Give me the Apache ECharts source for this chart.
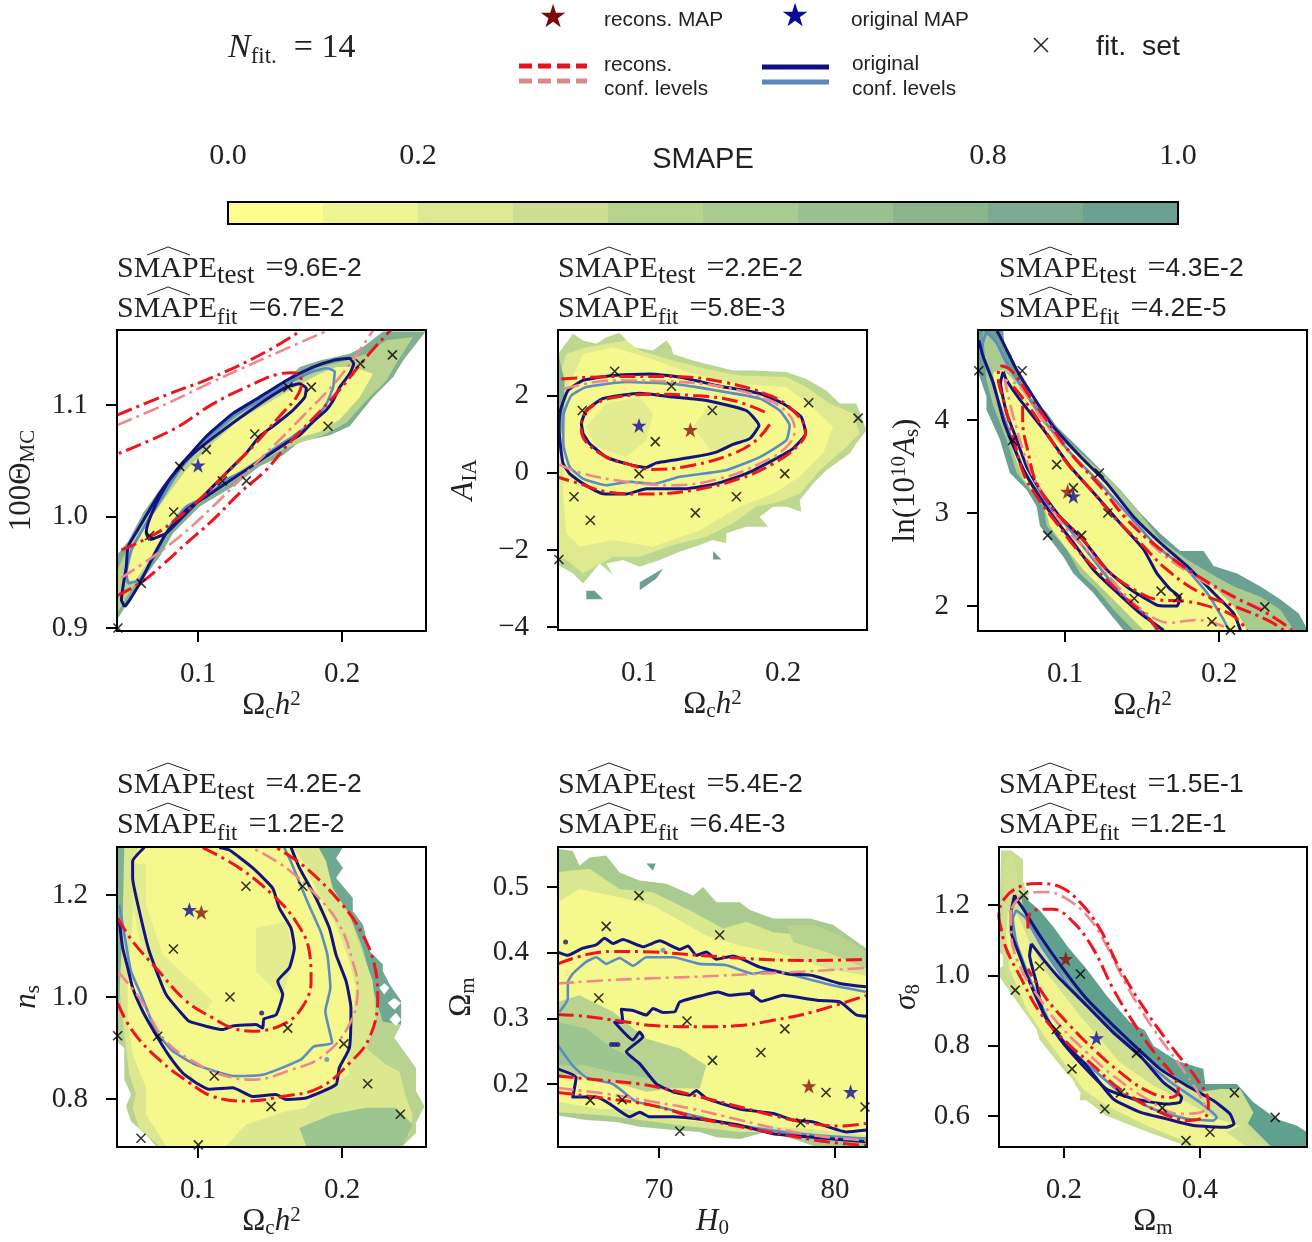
<!DOCTYPE html>
<html><head><meta charset="utf-8">
<style>html,body{margin:0;padding:0;background:#fff}#c{width:1312px;height:1242px}</style>
<script src="https://cdn.jsdelivr.net/npm/echarts@6/dist/echarts.min.js"></script>
</head><body><div id="c"></div>
<script>
// colour bar
const barEdges=[0,.1,.2,.3,.4,.5,.6,.7,.8,.9,1];
const barColors=['#fdfe8e','#eef491','#dde892','#cddd92','#b8d390','#a9cb8f','#9ac08f','#8ab48e','#7ca98f','#6ba193'];
const barTicks=[0,.2,.8,1];
// panel 1
const p1XTicks=[.1,.2], p1YTicks=[.9,1,1.1];
const p1Outer=[[.0438,.9045],[.0438,.9657],[.0514,.9776],[.0618,1.003],[.0734,1.024],[.0873,1.048],[.1058,1.072],[.1243,1.0925],[.1428,1.109],[.1613,1.122],[.1706,1.134],[.1845,1.14],[.2053,1.146],[.2146,1.152],[.2285,1.166],[.2581,1.166],[.2424,1.14],[.2354,1.125],[.2215,1.107],[.2053,1.081],[.1914,1.073],[.1706,1.067],[.159,1.055],[.1428,1.045],[.1243,1.027],[.1012,1.009],[.0826,.985],[.0734,.964],[.0595,.94],[.0438,.9075]];
const p1Mid=[[.0438,.952],[.0514,.972],[.0641,1],[.0757,1.019],[.0896,1.045],[.1081,1.069],[.1266,1.0896],[.1451,1.105],[.1637,1.119],[.1822,1.133],[.203,1.14],[.2169,1.146],[.2308,1.158],[.2493,1.161],[.2389,1.14],[.2308,1.122],[.2169,1.104],[.203,1.084],[.1868,1.073],[.1683,1.065],[.1544,1.057],[.1405,1.046],[.122,1.03],[.0988,1.01],[.0803,.987],[.0711,.966],[.0549,.937],[.0438,.913]];
const p1Core=[[.0502,.946],[.0549,.97],[.0664,.997],[.078,1.018],[.0919,1.042],[.1104,1.066],[.1289,1.087],[.1475,1.101],[.166,1.115],[.1845,1.128],[.1961,1.134],[.2076,1.134],[.2215,1.128],[.2123,1.107],[.1984,1.087],[.1845,1.076],[.166,1.069],[.1521,1.06],[.1336,1.045],[.1104,1.024],[.0919,1.006],[.078,.985],[.0664,.961],[.0549,.94]];
const p1NavyA=[[.0491,.919],[.0468,.925],[.0479,.937],[.0502,.955],[.0514,.973],[.0595,.991],[.0734,1.021],[.0873,1.045],[.1058,1.072],[.1243,1.0925],[.1428,1.107],[.1613,1.122],[.1799,1.134],[.1938,1.14],[.2053,1.142],[.2081,1.137],[.2053,1.128],[.1984,1.116],[.1938,1.104],[.1891,1.0955],[.1799,1.085],[.1706,1.073],[.1613,1.066],[.1475,1.054],[.1336,1.042],[.1197,1.03],[.1058,1.018],[.0919,1.006],[.078,.985],[.0688,.964],[.0595,.94],[.0525,.925],[.0491,.919]];
const p1NavyB=[[.0664,.979],[.0641,.985],[.0653,.994],[.0711,1.012],[.0803,1.033],[.0919,1.051],[.1058,1.066],[.1243,1.084],[.1428,1.101],[.1613,1.116],[.1706,1.119],[.1752,1.115],[.1741,1.107],[.166,1.0955],[.1521,1.081],[.1428,1.072],[.1336,1.057],[.1243,1.045],[.115,1.033],[.1058,1.021],[.0965,1.009],[.0873,.997],[.078,.985],[.0664,.979]];
const p1Blue=[[.0514,.94],[.0502,.949],[.0537,.97],[.0641,.994],[.0757,1.018],[.0873,1.042],[.1058,1.069],[.1243,1.09],[.1428,1.104],[.1613,1.119],[.1799,1.13],[.1891,1.133],[.1949,1.13],[.1938,1.116],[.1891,1.101],[.1799,1.085],[.166,1.072],[.1521,1.06],[.1336,1.042],[.1197,1.033],[.1058,1.018],[.0919,1.009],[.0803,.991],[.0688,.961],[.0595,.943],[.0514,.94]];
const p1RedA=[[.0438,1.091],[.078,1.109],[.1104,1.125],[.1475,1.148],[.1718,1.167]];
const p1RedB=[[.0438,.929],[.0618,.942],[.0757,.957],[.0919,.976],[.1104,.997],[.1289,1.021],[.1475,1.042],[.1613,1.063],[.1938,1.107],[.2169,1.143],[.2336,1.167]];
const p1RedC=[[.0468,.97],[.0525,.973],[.0711,.985],[.0873,1],[.1035,1.018],[.1197,1.039],[.1382,1.063],[.1567,1.09],[.1683,1.107],[.1718,1.119],[.1706,1.127],[.166,1.129],[.1567,1.128],[.1336,1.116],[.1104,1.101],[.0826,1.078],[.0438,1.056]];
const p1PinkA=[[.0438,1.082],[.078,1.101],[.1104,1.121],[.1428,1.14],[.1903,1.167]];
const p1PinkB=[[.0468,.945],[.0688,.964],[.0873,.982],[.1104,1.009],[.1382,1.045],[.1706,1.087],[.1984,1.125],[.2215,1.167]];
const p1Fit=[[.0664,.983],[.0873,1.045],[.1058,1.06],[.0831,1.004],[.1394,1.074],[.1169,1.032],[.1336,1.032],[.1625,1.116],[.1787,1.116],[.2127,1.137],[.235,1.145],[.1903,1.081],[.0606,.94],[.0444,.9]];
const p1Orig=[[.1,1.046]], p1Rec=[];
// panel 2
const p2XTicks=[.1,.2], p2YTicks=[-4,-2,0,2];
const p2Outer=[[.0438,3.09],[.0542,3.61],[.0611,3.44],[.0704,3.35],[.0773,3.52],[.0866,3.63],[.0958,3.26],[.1097,3.18],[.119,3.44],[.1225,3.26],[.1236,3.09],[.1375,2.92],[.1653,2.66],[.1792,2.66],[.2023,2.62],[.2162,2.44],[.2301,2.14],[.2394,1.8],[.2509,1.8],[.2579,1.11],[.2509,.76],[.2463,.5],[.2301,.07],[.2208,-.28],[.2116,-.71],[.2127,-1.01],[.2023,-.88],[.1931,-.88],[.1838,-1.14],[.1896,-1.4],[.1745,-1.4],[.1606,-1.57],[.1606,-1.83],[.1514,-1.74],[.1421,-1.87],[.1282,-2.05],[.1144,-2.26],[.1005,-2.44],[.0889,-2.26],[.0773,-2.35],[.0819,-2.65],[.0727,-2.35],[.0611,-2.87],[.0542,-2.61],[.0438,-2.39]];
const p2Mid=[[.0438,2.4],[.0495,3.09],[.0634,3.26],[.0912,3.44],[.1005,3.18],[.1236,2.92],[.1468,2.7],[.1699,2.53],[.2023,2.49],[.2162,2.23],[.2324,1.8],[.2486,1.54],[.2532,1.02],[.244,.67],[.2255,.07],[.2116,-.54],[.1977,-.75],[.1815,-.88],[.1653,-1.31],[.1468,-1.66],[.1236,-1.87],[.1005,-2.18],[.0819,-2.18],[.0611,-2.61],[.0495,-2.26],[.0438,-2.18]];
const p2Core=[[.0484,.85],[.0507,2.23],[.0611,3.09],[.0819,3.26],[.1051,3],[.1375,2.57],[.1699,2.31],[.2023,2.23],[.2208,1.71],[.2347,1.19],[.2278,.5],[.2116,-.1],[.1931,-.54],[.1699,-.88],[.1421,-1.49],[.1097,-1.92],[.0819,-1.74],[.0588,-1.92],[.0495,-1.57],[.0473,-.54]];
const p2PatchA=[[.0634,1.19],[.0773,1.8],[.1005,1.97],[.1097,1.54],[.1051,.85],[.0912,.41],[.0704,.67]];
const p2PatchB=[[.1375,1.19],[.1514,1.88],[.1745,1.62],[.1826,1.19],[.1745,.8],[.1514,.5]];
const p2Left=[[.0438,3.09],[.0484,2.4],[.0477,1.54],[.0449,.68],[.0438,.41]];
const p2IslandA=[[.1005,-3.05],[.1005,-2.84],[.1167,-2.48],[.1121,-2.74]];
const p2IslandB=[[.0634,-3.06],[.0692,-3.06],[.075,-3.28],[.0634,-3.28]];
const p2IslandC=[[.1514,-2.03],[.1572,-2.25],[.1514,-2.25]];
const p2NavyA=[[.0461,.5],[.0445,1.11],[.0454,1.62],[.0507,2.14],[.0611,2.4],[.0819,2.53],[.1074,2.57],[.1282,2.49],[.1537,2.27],[.1838,2.06],[.1999,1.8],[.2127,1.45],[.2157,1.02],[.2069,.63],[.1931,.33],[.1745,-.02],[.1537,-.28],[.1329,-.41],[.1051,-.41],[.0912,-.55],[.075,-.54],[.0611,-.28],[.0518,-.02],[.0473,.24],[.0461,.5]];
const p2NavyB=[[.0611,1.02],[.06,1.28],[.0634,1.62],[.075,1.93],[.1005,2.07],[.1236,1.97],[.1468,1.88],[.1745,1.62],[.1833,1.23],[.1769,.89],[.1653,.74],[.1537,.54],[.1375,.41],[.112,.26],[.1051,.14],[.0912,.24],[.0773,.41],[.0657,.76],[.0611,1.02]];
const p2Blue=[[.0473,1.02],[.0477,1.54],[.053,2.01],[.0634,2.23],[.0912,2.36],[.1236,2.31],[.1537,2.14],[.1838,1.93],[.1977,1.62],[.2046,1.23],[.2023,.85],[.1838,.41],[.1606,.07],[.1282,-.1],[.1097,-.29],[.0935,-.23],[.0773,-.32],[.0611,-.15],[.0518,.16],[.0477,.67],[.0473,1.02]];
const p2RedA=[[.0461,2.44],[.0819,2.5],[.1236,2.5],[.1583,2.36],[.1907,2.01],[.2069,1.62],[.2157,1.06],[.2093,.67],[.1931,.24],[.1699,-.15],[.1375,-.45],[.1051,-.55],[.0773,-.49],[.0588,-.28],[.0444,-.12]];
const p2RedB=[[.1873,1.58],[.1653,1.88],[.1375,2.01],[.1097,2.04],[.0843,1.97],[.0704,1.8],[.0611,1.45],[.06,1.11],[.0634,.8],[.0773,.41],[.0912,.24],[.1097,.09],[.1375,.2],[.1653,.5],[.1815,.85],[.1907,1.26]];
const p2Pink=[[.0477,2.18],[.0819,2.4],[.1236,2.37],[.1583,2.23],[.1907,1.88],[.2046,1.49],[.2081,1.11],[.2023,.67],[.1838,.24],[.156,-.15],[.1236,-.32],[.0912,-.23],[.0611,-.02],[.0444,.22]];
const p2Fit=[[.0831,2.64],[.1225,2.25],[.0606,1.62],[.1509,1.62],[.2178,1.82],[.2521,1.42],[.1113,.81],[.1,-.02],[.2012,-.02],[.0549,-.62],[.1676,-.62],[.1391,-1.04],[.0662,-1.23],[.0444,-2.25]];
const p2Orig=[[.1,1.23]], p2Rec=[[.1356,1.12]];
// panel 3
const p3XTicks=[.1,.2], p3YTicks=[2,3,4];
const p3Outer=[[.0436,4.96],[.0599,4.96],[.0609,4.76],[.0653,4.7],[.0664,4.58],[.0729,4.43],[.0772,4.25],[.0881,4.08],[.0946,3.93],[.1033,3.79],[.1119,3.65],[.1228,3.47],[.1358,3.25],[.1488,3],[.1618,2.78],[.1748,2.59],[.19,2.59],[.1965,2.43],[.2117,2.35],[.2269,2.21],[.2399,2.07],[.2518,1.92],[.2577,1.74],[.138,1.74],[.1271,1.96],[.1184,2.14],[.1054,2.35],[.0989,2.53],[.0837,2.86],[.0816,3.07],[.0751,3.25],[.0642,3.43],[.0577,3.79],[.049,4.11],[.049,4.25],[.0436,4.51]];
const p3Mid=[[.0469,4.94],[.0544,4.86],[.0599,4.65],[.0686,4.43],[.0772,4.18],[.0924,3.93],[.1098,3.65],[.1293,3.36],[.1466,3.04],[.1618,2.71],[.1792,2.5],[.1944,2.35],[.2095,2.21],[.2269,2.1],[.2399,1.96],[.2486,1.74],[.1445,1.74],[.1315,1.96],[.1206,2.18],[.1098,2.35],[.1011,2.61],[.0881,2.86],[.0859,3.07],[.0772,3.25],[.0686,3.43],[.062,3.79],[.0534,4.15],[.049,4.43]];
const p3Core=[[.0534,4.51],[.0599,4.54],[.0707,4.36],[.0816,4.08],[.0967,3.79],[.1141,3.54],[.1315,3.22],[.1488,2.89],[.164,2.61],[.1814,2.39],[.1965,2.21],[.2095,2],[.2182,1.74],[.151,1.74],[.138,1.96],[.1228,2.21],[.1119,2.39],[.1011,2.61],[.0902,2.86],[.0859,3.11],[.073,3.36],[.0664,3.65],[.062,3.93],[.0555,4.22]];
const p3NavyA=[[.044,4.86],[.0469,4.68],[.0534,4.4],[.0599,4],[.0664,3.72],[.0729,3.47],[.0816,3.22],[.0924,2.96],[.1054,2.68],[.1184,2.39],[.1315,2.18],[.1488,1.92],[.164,1.74]];
const p3NavyB=[[.0558,4.96],[.0599,4.83],[.0686,4.54],[.0794,4.25],[.0924,3.93],[.1098,3.61],[.1271,3.32],[.1445,2.96],[.1618,2.68],[.1792,2.43],[.1965,2.14],[.2095,1.92],[.2139,1.74]];
const p3NavyC=[[.0599,4.52],[.0581,4.4],[.062,4.08],[.0686,3.79],[.0751,3.5],[.0837,3.25],[.0967,2.96],[.1119,2.71],[.1271,2.39],[.1423,2.18],[.1597,2.01],[.1662,2],[.1727,2],[.1748,2.09],[.1683,2.18],[.1597,2.35],[.151,2.61],[.1358,2.89],[.1206,3.18],[.1033,3.5],[.0859,3.9],[.0707,4.22],[.062,4.43],[.0599,4.52]];
const p3BlueA=[[.049,4.95],[.0458,4.76],[.0523,4.43],[.061,4],[.0729,3.47],[.0859,3.14],[.1011,2.86],[.1184,2.5],[.1358,2.14],[.1531,1.89],[.1597,1.74]];
const p3BlueB=[[.049,4.95],[.0555,4.83],[.0631,4.58],[.0729,4.33],[.0859,4],[.1033,3.65],[.1228,3.32],[.1401,3],[.1597,2.64],[.1792,2.39],[.1922,2.14],[.203,1.85],[.2063,1.74]];
const p3RedA=[[.1607,1.74],[.1531,1.89],[.1401,2.07],[.1228,2.35],[.1076,2.61],[.0946,2.89],[.0816,3.18],[.0729,3.43],[.0664,3.82],[.0599,4.22],[.0566,4.47],[.0588,4.58],[.0664,4.51],[.0772,4.25],[.0881,4],[.1033,3.65],[.1228,3.29],[.1401,2.93],[.1597,2.64],[.1835,2.35],[.2095,2.1],[.2269,1.96],[.2399,1.83],[.2475,1.74]];
const p3RedB=[[.0725,4.15],[.0725,4],[.0761,3.65],[.0816,3.32],[.0946,3],[.1119,2.71],[.1271,2.39],[.1445,2.18],[.1597,2.07],[.1792,2.05],[.1965,1.98],[.2095,1.89],[.2182,1.74]];
const p3RedC=[[.0664,4.36],[.0751,4.18],[.0881,3.86],[.1011,3.54],[.1184,3.22],[.1315,2.96],[.1488,2.68],[.1662,2.39],[.1879,2.14],[.2095,2],[.2312,1.85],[.2421,1.74]];
const p3Pink=[[.2032,1.78],[.1857,1.85],[.1683,1.82],[.1531,1.92],[.1358,2.18],[.1184,2.53],[.1011,2.82],[.0881,3.14],[.0772,3.47],[.0664,4.04],[.0609,4.43],[.0707,4.36],[.0837,4.04],[.1011,3.68],[.1206,3.32],[.1401,2.96],[.1597,2.61],[.1814,2.35],[.2095,2.09],[.229,1.96],[.2464,1.74]];
const p3Fit=[[.0722,4.53],[.044,4.53],[.0659,3.78],[.0946,3.52],[.1223,3.43],[.1054,3.27],[.1278,3],[.0887,2.76],[.1108,2.76],[.1449,2.08],[.1623,2.16],[.1733,2.09],[.1954,1.83],[.2297,1.99],[.2074,1.74]];
const p3Orig=[[.1054,3.18]], p3Rec=[[.1017,3.23]];
// panel 4
const p4XTicks=[.1,.2], p4YTicks=[.8,1,1.2];
const p4Outer=[[.0435,1.293],[.2005,1.293],[.1958,1.272],[.2005,1.253],[.1958,1.233],[.2074,1.194],[.2074,1.168],[.2144,1.142],[.219,1.09],[.2282,1.064],[.2282,1.051],[.2329,1.025],[.241,.992],[.241,.946],[.2363,.92],[.2514,.861],[.2514,.815],[.2572,.786],[.2514,.753],[.2514,.734],[.2421,.708],[.0708,.708],[.0639,.73],[.0535,.756],[.05,.786],[.0535,.809],[.0488,.838],[.0488,.9],[.0435,.913]];
const p4Right=[[.2005,1.293],[.1958,1.272],[.2005,1.253],[.1958,1.233],[.2074,1.194],[.2074,1.168],[.2144,1.142],[.219,1.09],[.2282,1.064],[.2282,1.051],[.2329,1.025],[.241,.992],[.241,.946],[.2282,.952],[.2213,1.018],[.2144,1.096],[.2051,1.161],[.1935,1.213],[.1866,1.266],[.1838,1.293]];
const p4Left=[[.0435,1.293],[.0488,1.293],[.0477,1.15],[.0454,1],[.0435,.95]];
const p4HoleA=[[.2259,1.018],[.2294,1.027],[.2329,1.018],[.2294,1.005]];
const p4HoleB=[[.2317,.988],[.2363,.998],[.241,.988],[.2363,.975]];
const p4HoleC=[[.2329,.956],[.2375,.969],[.241,.956],[.2375,.943]];
const p4Mid=[[.0454,1.293],[.1838,1.293],[.1889,1.266],[.1935,1.213],[.2051,1.161],[.2132,1.096],[.2213,1.031],[.2236,.952],[.2167,.9],[.2306,.867],[.2398,.854],[.2444,.802],[.2491,.77],[.2468,.73],[.2352,.708],[.0731,.708],[.0593,.743],[.0546,.783],[.0569,.809],[.0523,.848],[.0488,.926],[.0454,1.018]];
const p4Core=[[.0581,1.293],[.1657,1.293],[.1727,1.266],[.1843,1.2],[.1958,1.142],[.2051,1.07],[.2097,1.018],[.2074,.952],[.2028,.887],[.2051,.848],[.1843,.815],[.175,.783],[.1611,.776],[.1333,.75],[.1194,.708],[.0778,.708],[.0639,.77],[.0639,.822],[.0546,.887],[.0512,.952],[.0512,1.05],[.0546,1.148],[.0546,1.246]];
const p4PatchA=[[.0546,1.259],[.0639,1.262],[.0639,1.181],[.0755,1.083],[.1102,.992],[.1056,.972],[.0824,1.005],[.0616,1.083],[.0546,1.181]];
const p4PatchB=[[.1403,1.135],[.1611,1.148],[.1669,1.083],[.1588,.998],[.1403,1.05]];
const p4Dark=[[.1704,.743],[.1935,.77],[.2167,.783],[.2375,.783],[.2491,.75],[.2421,.708],[.175,.708]];
const p4NavyA=[[.0454,1.148],[.0477,1.096],[.0512,1.057],[.0546,1.018],[.0616,.972],[.0708,.926],[.0801,.884],[.0894,.851],[.0986,.832],[.1079,.819],[.1241,.822],[.138,.805],[.1542,.809],[.1611,.799],[.175,.802],[.1958,.828],[.1981,.861],[.2051,.9],[.2062,.978],[.2028,1.031],[.1958,1.083],[.1912,1.135],[.1819,1.194],[.1704,1.253],[.1646,1.293]];
const p4NavyB=[[.0627,1.293],[.0546,1.266],[.0546,1.233],[.0593,1.168],[.0662,1.089],[.0778,1.005],[.0894,.965],[.094,.952],[.1171,.936],[.1241,.943],[.1403,.946],[.1449,.939],[.1458,.957],[.1542,.965],[.1588,1.005],[.1553,1.031],[.1634,1.057],[.1669,1.096],[.1646,1.135],[.1565,1.174],[.1519,1.213],[.138,1.253],[.1218,1.288],[.1148,1.293]];
const p4Blue=[[.0454,1.18],[.0489,1.122],[.0535,1.05],[.0604,1.005],[.0708,.933],[.0824,.894],[.0986,.867],[.125,.845],[.1458,.848],[.1713,.877],[.1806,.903],[.1931,.91],[.1884,.972],[.1919,1.018],[.1898,1.083],[.1852,1.128],[.1759,1.187],[.1644,1.266],[.1598,1.293]];
const p4RedA=[[.0442,.988],[.0546,.933],[.0731,.877],[.094,.832],[.1102,.805],[.1333,.796],[.1588,.805],[.1843,.822],[.2051,.87],[.219,.92],[.2248,.998],[.2225,1.063],[.2144,1.122],[.2005,1.18],[.175,1.253],[.1542,1.293]];
const p4RedB=[[.0442,1.155],[.0546,1.109],[.0708,1.057],[.0917,.992],[.1102,.959],[.1241,.939],[.138,.933],[.1565,.943],[.1704,.972],[.1785,1.031],[.1773,1.089],[.168,1.148],[.1519,1.2],[.1287,1.253],[.1032,1.293]];
const p4Pink=[[.0442,1.05],[.0593,.998],[.0778,.913],[.1009,.867],[.1194,.845],[.138,.838],[.1657,.858],[.1866,.884],[.2051,.946],[.2109,1.018],[.2074,1.07],[.1981,1.142],[.1819,1.2],[.1611,1.253],[.138,1.292]];
const p4Fit=[[.1333,1.217],[.1727,1.217],[.0829,1.094],[.1222,1],[.1623,.939],[.072,.923],[.0442,.924],[.2012,.908],[.1113,.845],[.2178,.83],[.1507,.785],[.2405,.77],[.0604,.723],[.1002,.71]];
const p4Orig=[[.094,1.171]], p4Rec=[[.1023,1.166]];
const p4NavyDots=[[.1442,.9687]], p4BlueDots=[[.1894,.8773]];
// panel 5
const p5XTicks=[70,80], p5YTicks=[.2,.3,.4,.5];
const p5Outer=[[64.25,.558],[65.1,.555],[65.48,.533],[66.05,.545],[67,.548],[67.76,.522],[68.9,.51],[70.42,.505],[71.94,.487],[72.5,.5],[73.26,.477],[74.59,.477],[75.16,.465],[76.49,.452],[78.58,.452],[79.91,.442],[81.8,.406],[81.8,.104],[78.96,.104],[77.63,.116],[76.11,.127],[74.59,.116],[73.26,.119],[72.31,.127],[70.8,.13],[68.9,.135],[67.57,.142],[65.86,.145],[64.25,.152]];
const p5Island=[[69.28,.536],[69.81,.536],[69.66,.525]];
const p5Mid=[[64.25,.523],[66.05,.528],[67.76,.497],[69.66,.492],[71.94,.462],[73.64,.437],[74.97,.447],[76.49,.431],[78.39,.426],[80.28,.416],[81.8,.386],[81.8,.117],[78.01,.127],[74.59,.127],[71.18,.137],[67,.152],[64.25,.157]];
const p5Core=[[64.25,.477],[65.48,.497],[68.14,.482],[69.66,.472],[72.69,.426],[74.59,.411],[77.25,.396],[79.53,.376],[81.8,.365],[81.8,.122],[78.39,.132],[74.59,.137],[72.69,.142],[70.42,.147],[68.14,.162],[66.62,.162],[64.25,.173]];
const p5Wedge=[[64.25,.325],[65.48,.335],[67.38,.31],[69.28,.269],[71.18,.254],[72.69,.228],[72.31,.193],[70.8,.193],[69.28,.188],[67.38,.203],[65.67,.213],[64.25,.213]];
const p5WedgeCore=[[64.25,.294],[65.86,.284],[67.38,.254],[68.9,.234],[69.66,.208],[67.38,.218],[65.86,.228],[64.25,.228]];
const p5Upper=[[77.25,.442],[78.77,.442],[80.28,.426],[81.8,.401],[81.8,.376],[79.53,.401],[77.63,.416]];
const p5NavyA=[[64.25,.401],[64.82,.396],[65.67,.407],[66.43,.412],[66.91,.422],[67.38,.414],[67.95,.42],[69.09,.409],[70.04,.418],[71.18,.405],[71.65,.41],[72.12,.396],[72.69,.401],[73.26,.39],[74.21,.395],[75.73,.378],[77.25,.368],[78.77,.365],[80.28,.353],[81.8,.348]];
const p5NavyB=[[81.8,.303],[81.23,.305],[80.28,.325],[79.15,.327],[78.39,.33],[77.06,.335],[75.82,.326],[75.16,.338],[74.02,.335],[73.36,.34],[72.5,.335],[71.18,.325],[70.9,.31],[70.23,.309],[69.66,.315],[69.28,.305],[68.52,.312],[67.86,.314],[67.95,.294],[67.48,.294],[68.52,.267],[68.9,.279],[69.09,.272],[68.14,.249],[68.9,.231],[69.85,.2],[70.8,.188],[71.75,.183],[72.12,.19],[72.69,.178],[74.59,.162],[76.49,.155],[77.63,.145],[78.77,.142],[80.66,.127],[81.8,.13]];
const p5NavyC=[[64.25,.223],[65.29,.21],[65.1,.18],[66.43,.18],[67.19,.17],[68.33,.15],[68.9,.157],[69.47,.15],[70.8,.15],[72.69,.145],[74.59,.137],[76.49,.124],[78.77,.119],[81.8,.112]];
const p5BlueA=[[64.35,.31],[64.82,.33],[64.82,.355],[65.1,.368],[65.86,.386],[66.43,.393],[67,.383],[67.76,.392],[68.52,.38],[69.28,.393],[70.8,.393],[72.31,.383],[73.83,.381],[75.35,.368],[76.49,.373],[78.01,.363],[79.91,.35],[81.8,.34]];
const p5BlueB=[[64.25,.259],[65.1,.228],[65.86,.21],[67.38,.2],[68.71,.173],[70.04,.165],[71.94,.152],[73.83,.14],[76.49,.129],[78.77,.122],[81.8,.117]];
const p5RedA=[[64.25,.383],[65.86,.397],[67.38,.402],[69.66,.401],[72.31,.396],[75.73,.39],[78.77,.388],[81.8,.39]];
const p5RedB=[[64.25,.306],[65.86,.303],[67.76,.296],[69.66,.289],[72.31,.287],[74.59,.289],[76.49,.297],[78.77,.31],[81.8,.335]];
const p5RedC=[[64.25,.212],[66.62,.206],[68.9,.2],[70.8,.19],[72.69,.178],[74.59,.165],[76.49,.152],[78.39,.141],[80.28,.136],[81.8,.14]];
const p5RedD=[[64.25,.187],[67,.178],[69.66,.167],[71.94,.15],[74.59,.135],[77.25,.122],[79.53,.112],[81.8,.106]];
const p5PinkA=[[64.25,.353],[67,.358],[69.66,.361],[72.69,.364],[75.73,.368],[78.77,.372],[81.8,.377]];
const p5PinkB=[[64.25,.194],[67,.185],[69.66,.173],[71.94,.162],[74.59,.145],[77.25,.129],[79.53,.119],[81.8,.114]];
const p5Fit=[[68.86,.487],[67,.44],[73.45,.427],[66.58,.331],[71.59,.296],[77.15,.284],[75.79,.248],[73.04,.236],[79.49,.187],[66.09,.175],[67.91,.176],[78.05,.141],[71.18,.128],[81.71,.165]];
const p5Orig=[[80.89,.188]], p5Rec=[[78.52,.197]];
const p5NavyDots=[[64.69,.4162],[75.31,.341],[75.31,.337],[67.3,.26],[67.48,.26],[67.66,.26]], p5BlueDots=[[70.23,.4036]];
// panel 6
const p6XTicks=[.2,.4], p6YTicks=[.6,.8,1,1.2];
const p6Outer=[[.1076,1.355],[.1224,1.355],[.1396,1.33],[.1396,1.27],[.1494,1.209],[.1641,1.185],[.1862,1.133],[.2059,1.08],[.2329,1.019],[.2624,.943],[.2968,.867],[.3189,.843],[.3312,.8],[.3656,.757],[.4049,.734],[.4074,.691],[.4541,.691],[.4786,.639],[.513,.591],[.5425,.572],[.5582,.553],[.5582,.511],[.5057,.511],[.4147,.511],[.3853,.511],[.3214,.556],[.2624,.601],[.2329,.645],[.2231,.645],[.2256,.684],[.2034,.722],[.1641,.817],[.1592,.848],[.1346,.915],[.1052,.996],[.1042,1.02],[.1224,1.038],[.1042,1.067],[.1052,1.2]];
const p6Teal=[[.1371,1.228],[.1494,1.209],[.1641,1.185],[.1862,1.133],[.2059,1.08],[.2329,1.019],[.2624,.943],[.2968,.867],[.3189,.843],[.3312,.8],[.3656,.757],[.4049,.734],[.4074,.691],[.4541,.691],[.4786,.639],[.513,.591],[.5425,.572],[.5582,.553],[.5582,.511],[.5057,.511],[.4688,.582],[.4393,.649],[.4,.668],[.3607,.715],[.3214,.762],[.2722,.838],[.2231,.943],[.174,1.057],[.1445,1.152],[.1371,1.209]];
const p6Mid=[[.1125,1.342],[.1248,1.342],[.1346,1.247],[.1445,1.152],[.174,1.057],[.2231,.943],[.2722,.838],[.3214,.762],[.3607,.715],[.4,.668],[.4295,.677],[.459,.677],[.4786,.61],[.4639,.554],[.5032,.511],[.3951,.511],[.3214,.563],[.2624,.615],[.2231,.668],[.2034,.734],[.169,.82],[.1396,.905],[.1101,1.028],[.1101,1.152]];
const p6Core=[[.1174,1.18],[.1322,1.171],[.1494,1.095],[.174,1.009],[.2231,.886],[.2821,.753],[.3312,.687],[.3803,.639],[.4246,.592],[.459,.573],[.4393,.554],[.4688,.511],[.4,.511],[.3214,.573],[.2624,.63],[.228,.677],[.2034,.744],[.174,.82],[.1445,.905],[.1199,1.019],[.115,1.114]];
const p6NavyA=[[.1273,1.228],[.1224,1.18],[.1224,1.123],[.1346,1.057],[.1494,.981],[.174,.877],[.2034,.801],[.2329,.744],[.2722,.649],[.3115,.611],[.3509,.592],[.3902,.573],[.4393,.568],[.4501,.577],[.4442,.606],[.4197,.644],[.3803,.687],[.341,.734],[.3115,.786],[.2722,.858],[.2329,.934],[.1985,1.019],[.1641,1.114],[.1396,1.19],[.1297,1.218],[.1273,1.228]];
const p6NavyB=[[.1518,1.09],[.1494,1.057],[.1592,.981],[.169,.896],[.1936,.82],[.2231,.753],[.2624,.677],[.3017,.649],[.3509,.634],[.3705,.639],[.373,.653],[.3459,.696],[.3115,.772],[.2722,.838],[.2329,.915],[.1936,.991],[.169,1.047],[.1518,1.09]];
const p6Blue=[[.1297,1.185],[.1248,1.161],[.1297,1.095],[.1494,.991],[.1789,.867],[.2133,.782],[.2477,.725],[.2821,.668],[.3312,.62],[.3803,.592],[.4197,.587],[.4246,.596],[.4,.639],[.3607,.691],[.3214,.753],[.2821,.82],[.2428,.896],[.2034,.981],[.169,1.076],[.1445,1.161],[.1297,1.185]];
const p6RedA=[[.1076,1.133],[.1042,1.171],[.1125,1.218],[.1346,1.252],[.1641,1.261],[.1936,1.252],[.2231,1.209],[.2526,1.133],[.2821,1.019],[.3214,.896],[.3607,.791],[.3951,.706],[.4123,.639],[.4123,.611],[.3853,.587],[.341,.611],[.2821,.677],[.2428,.744],[.2034,.81],[.1641,.896],[.1346,1],[.115,1.076],[.1076,1.133]];
const p6RedB=[[.1469,1.133],[.1469,1.161],[.1641,1.188],[.1838,1.188],[.2133,1.152],[.2428,1.076],[.2722,.962],[.3017,.867],[.3361,.772],[.3607,.715],[.3681,.668],[.3558,.653],[.3214,.672],[.2821,.725],[.2428,.791],[.2084,.858],[.174,.934],[.1469,1.019]];
const p6Pink=[[.1224,1.19],[.1445,1.233],[.174,1.237],[.2034,1.218],[.2378,1.161],[.2624,1.085],[.2919,.972],[.3312,.848],[.3705,.744],[.4,.658],[.4074,.62],[.3705,.606],[.3214,.649],[.2722,.715],[.2329,.782],[.1936,.858],[.1641,.934],[.1346,1.028],[.1224,1.123],[.1224,1.19]];
const p6Fit=[[.1405,1.228],[.1641,1.026],[.2241,1.004],[.1283,.958],[.1887,.846],[.3066,.779],[.2118,.734],[.283,.666],[.3445,.623],[.26,.62],[.4506,.666],[.5106,.596],[.4147,.554],[.3794,.53]];
const p6Orig=[[.2477,.822]], p6Rec=[[.2025,1.047]];

const testScores=['9.6E-2','2.2E-2','4.3E-2','4.2E-2','5.4E-2','1.5E-1'];
const fitScores=['6.7E-2','5.8E-3','4.2E-5','1.2E-2','6.4E-3','1.2E-1'];

const SERIF='"Liberation Serif",serif', SANS='"Liberation Sans",sans-serif';
const L0='#6ba193',L1='#b8d38f',L2='#f5f88d',P='#e4ec90',D='#9cc58f';
const mathRich={
 o:{fontFamily:SERIF,fontSize:31,lineHeight:34,fontWeight:'normal',color:'#222'},
 i:{fontFamily:SERIF,fontStyle:'italic',fontSize:31,lineHeight:34,fontWeight:'normal',color:'#222'},
 s:{fontFamily:SERIF,fontSize:21,lineHeight:20,verticalAlign:'bottom',fontWeight:'normal',color:'#222'},
 u:{fontFamily:SERIF,fontSize:21,lineHeight:20,verticalAlign:'top',fontWeight:'normal',color:'#222'}
};
const OC='{o|Ω}{s|c}{i|h}{u|2}';
const panels=[
{g:[117,330,309,301],x:[.04375,.2583],y:[.8973,1.1673],xt:p1XTicks,yt:p1YTicks,xd:1,yd:1,xn:OC,yn:'{o|100Θ}{s|MC}',yg:78,tx:117,ty:249,
 regions:[[p1Outer,'#7fb08f'],[p1Mid,L1],[p1Core,L2]],navy:[p1NavyA,p1NavyB],blue:[p1Blue],red:[p1RedA,p1RedB,p1RedC],pink:[p1PinkA,p1PinkB],fit:p1Fit,orig:p1Orig,rec:p1Rec,nd:[],bd:[]},
{g:[558,330,309,300],x:[.04375,.2583],y:[-4.08,3.71],xt:p2XTicks,yt:p2YTicks,xd:1,yd:0,xn:OC,yn:'{i|A}{s|IA}',yg:77,tx:558,ty:249,
 regions:[[p2IslandA,L0],[p2IslandB,L0],[p2IslandC,L0],[p2Outer,'#bcd78f'],[p2Mid,'#dfea90'],[p2Core,L2],[p2PatchA,P],[p2PatchB,P],[p2Left,'#7fb08f']],navy:[p2NavyA,p2NavyB],blue:[p2Blue],red:[p2RedA,p2RedB],pink:[p2Pink],fit:p2Fit,orig:p2Orig,rec:p2Rec,nd:[],bd:[]},
{g:[978,330,329,301],x:[.0435,.2571],y:[1.731,4.968],xt:p3XTicks,yt:p3YTicks,xd:1,yd:0,xn:OC,yn:'{o|ln(10}{u|10}{i|A}{s|s}{o|)}',yg:55,tx:999,ty:249,
 regions:[[p3Outer,L0],[p3Mid,'#aacb8f'],[p3Core,L2]],navy:[p3NavyA,p3NavyB,p3NavyC],blue:[p3BlueA,p3BlueB],red:[p3RedA,p3RedB,p3RedC],pink:[p3Pink],fit:p3Fit,orig:p3Orig,rec:p3Rec,nd:[],bd:[]},
{g:[117,847,309,300],x:[.04375,.2583],y:[.7059,1.294],xt:p4XTicks,yt:p4YTicks,xd:1,yd:1,xn:OC,yn:'{i|n}{s|s}',yg:73,tx:117,ty:765,
 regions:[[p4Outer,L1],[p4Right,'#6fa892'],[p4HoleA,'#fff'],[p4HoleB,'#fff'],[p4HoleC,'#fff'],[p4Mid,'#dbe88f'],[p4Core,L2],[p4Dark,D],[p4PatchA,P],[p4PatchB,P],[p4Left,'#7fb08f']],navy:[p4NavyA,p4NavyB],blue:[p4Blue],red:[p4RedA,p4RedB],pink:[p4Pink],fit:p4Fit,orig:p4Orig,rec:p4Rec,nd:p4NavyDots,bd:p4BlueDots},
{g:[558,847,309,300],x:[64.26,81.82],y:[.104,.561],xt:p5XTicks,yt:p5YTicks,xd:0,yd:1,xn:'{i|H}{s|0}',yn:'{o|Ω}{s|m}',yg:79,tx:558,ty:765,
 regions:[[p5Island,L0],[p5Outer,'#a9cb8f'],[p5Mid,'#d9e78f'],[p5Core,L2],[p5Upper,L1],[p5Wedge,L1],[p5WedgeCore,D]],navy:[p5NavyA,p5NavyB,p5NavyC],blue:[p5BlueA,p5BlueB],red:[p5RedA,p5RedB,p5RedC,p5RedD],pink:[p5PinkA,p5PinkB],fit:p5Fit,orig:p5Orig,rec:p5Rec,nd:p5NavyDots,bd:p5BlueDots},
{g:[999,847,308,300],x:[.1044,.5574],y:[.5119,1.365],xt:p6XTicks,yt:p6YTicks,xd:1,yd:1,xn:'{o|Ω}{s|m}',yn:'{i|σ}{s|8}',yg:75,tx:999,ty:765,
 regions:[[p6Outer,'#c9dd90'],[p6Teal,'#5fa08e'],[p6Mid,'#cfe090'],[p6Core,'#f0f48e']],navy:[p6NavyA,p6NavyB],blue:[p6Blue],red:[p6RedA,p6RedB],pink:[p6Pink],fit:p6Fit,orig:p6Orig,rec:p6Rec,nd:[],bd:[]}
];

const grid=[],xAxis=[],yAxis=[],series=[],title=[],graphic=[];
const STAR='path://M50 0L62 35H98L69 57L80 92L50 71L20 92L31 57L2 35H38Z';
const CROSS='path://M0 0L10 10M10 0L0 10';
const minus=s=>s.replace('-','−');
panels.forEach((p,k)=>{
 grid.push({left:p.g[0],top:p.g[1],width:p.g[2],height:p.g[3],outerBoundsMode:'none'});
 const tick={show:true,length:11,lineStyle:{color:'#000',width:2}};
 xAxis.push({type:'value',gridIndex:k,min:p.x[0],max:p.x[1],splitLine:{show:false},axisLine:{show:false},
  axisTick:{...tick,customValues:p.xt},
  axisLabel:{customValues:p.xt,margin:29,fontFamily:SERIF,fontSize:29,color:'#222',formatter:v=>minus(Number(v).toFixed(p.xd))},
  name:p.xn,nameLocation:'middle',nameGap:58,nameMoveOverlap:false,nameTextStyle:{rich:mathRich}});
 yAxis.push({type:'value',gridIndex:k,min:p.y[0],max:p.y[1],splitLine:{show:false},axisLine:{show:false},
  axisTick:{...tick,customValues:p.yt},
  axisLabel:{customValues:p.yt,margin:29,fontFamily:SERIF,fontSize:29,color:'#222',formatter:v=>minus(Number(v).toFixed(p.yd))},
  name:p.yn,nameLocation:'middle',nameGap:p.yg,nameRotate:90,nameMoveOverlap:false,nameTextStyle:{rich:mathRich}});
 p.regions.forEach(([pts,col])=>series.push({type:'custom',xAxisIndex:k,yAxisIndex:k,clip:true,z:1,silent:true,
  data:pts,encode:{x:0,y:1},
  renderItem:(params,api)=>params.dataIndex===0?{type:'polygon',shape:{points:pts.map(q=>api.coord(q))},style:{fill:col}}:null}));
 const line=(pts,color,width,dash,smooth,z)=>series.push({type:'line',xAxisIndex:k,yAxisIndex:k,data:pts,showSymbol:false,symbol:'none',smooth,z,clip:true,silent:true,
  lineStyle:{color,width,type:dash,cap:'butt',join:'round'}});
 p.blue.forEach(a=>line(a,'#5b8cc2',2.6,'solid',.15,3));
 p.navy.forEach(a=>line(a,'#14147f',3,'solid',.15,4));
 p.pink.forEach(a=>line(a,'#f0878c',2.6,[16,5,3,5],.4,5));
 p.red.forEach(a=>line(a,'#f0141e',3,[16,5,3,5],.4,6));
 if(p.nd.length)series.push({type:'scatter',xAxisIndex:k,yAxisIndex:k,data:p.nd,symbol:'circle',symbolSize:5,z:4,silent:true,itemStyle:{color:'#14147f'}});
 if(p.bd.length)series.push({type:'scatter',xAxisIndex:k,yAxisIndex:k,data:p.bd,symbol:'circle',symbolSize:5,z:3,silent:true,itemStyle:{color:'#5b8cc2'}});
 series.push({type:'scatter',xAxisIndex:k,yAxisIndex:k,data:p.fit,symbol:CROSS,symbolSize:9,z:8,clip:true,silent:true,itemStyle:{color:'none',borderColor:'#000',borderWidth:1.6}});
 if(p.rec.length)series.push({type:'scatter',xAxisIndex:k,yAxisIndex:k,data:p.rec,symbol:STAR,symbolSize:15,z:9,silent:true,itemStyle:{color:'#8a1010'}});
 series.push({type:'scatter',xAxisIndex:k,yAxisIndex:k,data:p.orig,symbol:STAR,symbolSize:15,z:10,silent:true,itemStyle:{color:'#0c0c9e'}});
 title.push({left:p.tx,top:p.ty,padding:0,
  text:`{a|SMAPE}{t|test} {e|=}{b|${testScores[k]}}\n{a|SMAPE}{s|fit} {e|=}{b|${fitScores[k]}}`,
  textStyle:{fontWeight:'normal',rich:{a:{fontFamily:SERIF,fontWeight:'normal',fontSize:30,lineHeight:40,color:'#222'},
   s:{fontFamily:SERIF,fontWeight:'normal',fontSize:23,lineHeight:22,verticalAlign:'bottom',color:'#222'},
   t:{fontFamily:SERIF,fontWeight:'normal',fontSize:27,lineHeight:22,verticalAlign:'bottom',color:'#222'},
   e:{fontFamily:SERIF,fontWeight:'normal',fontSize:32,lineHeight:40,padding:[0,0,0,6],color:'#222'},b:{fontFamily:SANS,fontWeight:'normal',fontSize:26.5,lineHeight:40,color:'#222'}}}});
 [p.ty-2,p.ty+38].forEach(y=>graphic.push({type:'polyline',z:50,shape:{points:[[p.tx+30,y+8],[p.tx+51,y],[p.tx+73,y+8]]},style:{fill:'none',stroke:'#222',lineWidth:1}}));
 graphic.push({type:'rect',z:60,shape:{x:p.g[0],y:p.g[1],width:p.g[2],height:p.g[3]},style:{fill:'none',stroke:'#000',lineWidth:2}});
});
// colour bar
const cb=panels.length;
grid.push({left:228,top:202,width:950,height:22,outerBoundsMode:'none'});
xAxis.push({type:'value',gridIndex:cb,min:0,max:1,position:'top',splitLine:{show:false},axisLine:{show:false},
 axisTick:{show:true,length:13,lineStyle:{color:'#000',width:2},customValues:barTicks},
 axisLabel:{customValues:barTicks,margin:31,fontFamily:SERIF,fontSize:30,color:'#222',formatter:v=>Number(v).toFixed(1)},
 name:'SMAPE',nameLocation:'middle',nameGap:28,nameMoveOverlap:false,nameTextStyle:{fontFamily:SANS,fontSize:29,color:'#222'}});
yAxis.push({type:'value',gridIndex:cb,min:0,max:1,show:false});
series.push({type:'custom',xAxisIndex:cb,yAxisIndex:cb,z:1,silent:true,
 data:barColors.map((c,i)=>[barEdges[i],barEdges[i+1]]),encode:{x:[0,1]},
 renderItem:(params,api)=>{const a=api.coord([api.value(0),1]),b=api.coord([api.value(1),0]);
  return {type:'rect',shape:{x:a[0],y:a[1],width:b[0]-a[0],height:b[1]-a[1]},style:{fill:barColors[params.dataIndex]}}}});
graphic.push({type:'rect',z:60,shape:{x:228,y:202,width:950,height:22},style:{fill:'none',stroke:'#000',lineWidth:2}});
// header legend
const txt=(x,y,text,size,extra)=>graphic.push({type:'text',z:70,style:{x,y,text,fontFamily:SANS,fontSize:size,fill:'#222',textVerticalAlign:'middle',...extra}});
const hline=(x1,x2,y,stroke,dash)=>graphic.push({type:'line',z:70,shape:{x1,y1:y,x2,y2:y},style:{stroke,lineWidth:5,lineDash:dash}});
txt(553,19,'★',32,{fontFamily:'"DejaVu Sans"',fill:'#7b0a0a',textAlign:'center'});
txt(795,18,'★',32,{fontFamily:'"DejaVu Sans"',fill:'#0a0a99',textAlign:'center'});
txt(604,20,'recons. MAP',20.8); txt(851,20,'original MAP',20.8);
txt(604,65,'recons.',20.8); txt(604,89,'conf. levels',20.8);
txt(852,64,'original',20.8); txt(852,89,'conf. levels',20.8);
hline(519,587,66,'#e4141e',[13,6]); hline(519,587,81,'#d88a8a',[13,6]);
hline(762,829,67,'#12127f'); hline(762,829,82,'#6085bb');
graphic.push({type:'line',z:70,shape:{x1:1034,y1:38,x2:1048,y2:52},style:{stroke:'#222',lineWidth:1.5}});
graphic.push({type:'line',z:70,shape:{x1:1048,y1:38,x2:1034,y2:52},style:{stroke:'#222',lineWidth:1.5}});
txt(1096,47,'fit.  set',28.5);
graphic.push({type:'text',z:70,style:{x:228,y:48,textVerticalAlign:'middle',text:'{i|N}{s|fit.}{o|  = 14}',
 rich:{i:{fontFamily:SERIF,fontStyle:'italic',fontSize:34,lineHeight:40,fill:'#222'},s:{fontFamily:SERIF,fontSize:23,lineHeight:22,verticalAlign:'bottom',fill:'#222'},o:{fontFamily:SERIF,fontSize:34,lineHeight:40,fill:'#222'}}}});

const chart=echarts.init(document.getElementById('c'),null,{renderer:'canvas'});
chart.setOption({animation:false,backgroundColor:'#fff',title,grid,xAxis,yAxis,series,graphic:{elements:graphic}});
</script></body></html>
